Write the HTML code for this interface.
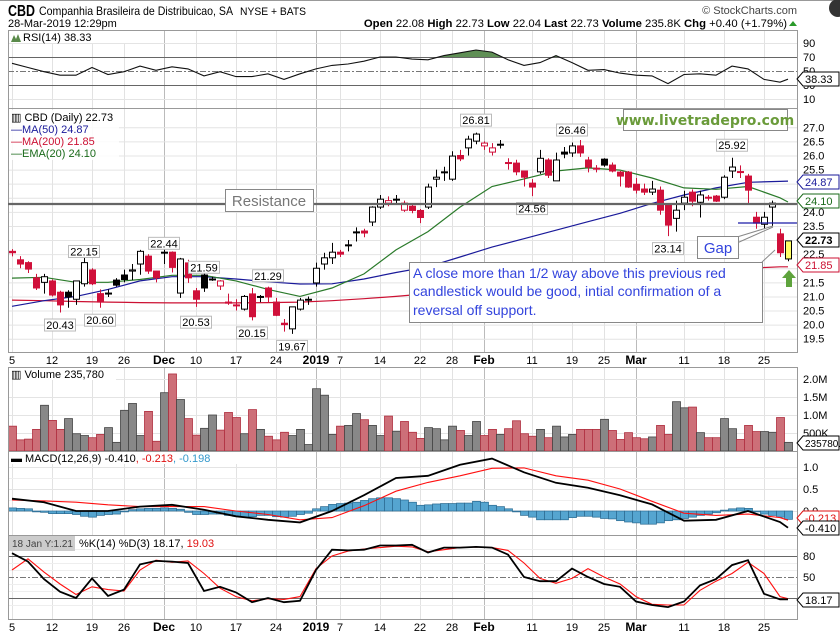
<!DOCTYPE html>
<html><head><meta charset="utf-8"><style>
html,body{margin:0;padding:0;background:#fff;}
svg{display:block;font-family:"Liberation Sans","DejaVu Sans",sans-serif;}
</style></head><body>
<svg id="chart" width="840" height="634" viewBox="0 0 840 634" xmlns="http://www.w3.org/2000/svg">
<rect x="0" y="0" width="840" height="634" fill="#fff"/>
<line x1="0" y1="0.5" x2="840" y2="0.5" stroke="#999"/>
<text x="8" y="16" font-size="16" font-weight="bold" textLength="27" lengthAdjust="spacingAndGlyphs">CBD</text>
<text x="39" y="15" font-size="12" textLength="194" lengthAdjust="spacingAndGlyphs">Companhia Brasileira de Distribuicao, SA</text>
<text x="240" y="15" font-size="11" textLength="66" lengthAdjust="spacingAndGlyphs">NYSE + BATS</text>
<text x="797" y="14" font-size="11" text-anchor="end" fill="#444">© StockCharts.com</text>
<circle cx="838" cy="8" r="9" fill="#333"/>
<text x="8" y="27" font-size="11">28-Mar-2019 12:29pm</text>
<text x="787" y="27" font-size="11.3" text-anchor="end"><tspan font-weight="bold">Open</tspan> 22.08  <tspan font-weight="bold">High</tspan> 22.73  <tspan font-weight="bold">Low</tspan> 22.04  <tspan font-weight="bold">Last</tspan> 22.73  <tspan font-weight="bold">Volume</tspan> 235.8K  <tspan font-weight="bold">Chg</tspan> +0.40 (+1.79%)</text>
<polygon points="789,26 797,26 793,21" fill="#2a9a2a"/>
<g id="grid"></g>
<g id="marks"></g>
<g id="frames" fill="none" stroke="#999">
<rect x="8.5" y="30.5" width="789" height="78"/>
<rect x="8.5" y="108.5" width="789" height="244"/>
<rect x="8.5" y="367.5" width="789" height="84"/>
<rect x="8.5" y="451.5" width="789" height="84"/>
<rect x="8.5" y="535.5" width="789" height="84"/>
</g>
<g id="annot">
<line x1="8" y1="204" x2="797" y2="204" stroke="#666" stroke-width="2.2"/>
<rect x="225.5" y="189.5" width="88" height="22" fill="#fff" stroke="#888"/>
<text x="269" y="206" font-size="15" fill="#777" text-anchor="middle">Resistance</text>
<rect x="623.5" y="109.5" width="164" height="21" fill="#fff" stroke="#888"/>
<text x="705" y="125" font-size="14" font-weight="bold" fill="#6a9b3a" text-anchor="middle" font-family="DejaVu Sans">www.livetradepro.com</text>
<line x1="738" y1="223" x2="797" y2="223" stroke="#1a1aa8" stroke-width="1.3"/>
<line x1="737" y1="237" x2="773" y2="226" stroke="#888"/>
<line x1="737" y1="243" x2="773" y2="227" stroke="#888"/>
<rect x="697.5" y="236.5" width="41" height="22" fill="#fff" stroke="#888"/>
<text x="718" y="253" font-size="15" fill="#3344dd" text-anchor="middle">Gap</text>
<line x1="762" y1="262" x2="775" y2="250" stroke="#888"/>
<rect x="409.5" y="262.5" width="353" height="60" fill="#fff" stroke="#888"/>
<text font-size="14" fill="#3344dd"><tspan x="413" y="278">A close more than 1/2 way above this previous red</tspan><tspan x="413" y="296">candlestick would be good, intial confirmation of a</tspan><tspan x="413" y="315">reversal off support.</tspan></text>
<polygon points="789,270 796,278 792,278 792,287 786,287 786,278 782,278" fill="#5ea33c"/>
</g>
<g id="labels" font-size="11">
<rect x="9" y="31" width="128" height="12" fill="#fff"/>
<polygon points="11,42 14,35 16,39 18,34 21,42" fill="#5a8a4a"/>
<text x="23" y="41">RSI(14) 38.33</text>
<rect x="9" y="110" width="110" height="50" fill="#fff" fill-opacity="0.85"/>
<text x="11" y="121">▥ CBD (Daily) 22.73</text>
<text x="11" y="133" fill="#1a1a9a">—MA(50) 24.87</text>
<text x="11" y="145" fill="#cc1133">—MA(200) 21.85</text>
<text x="11" y="157" fill="#1a6a1a">—EMA(20) 24.10</text>
<rect x="9" y="368" width="107" height="12" fill="#fff"/>
<text x="11" y="378">▥ Volume 235,780</text>
<rect x="9" y="452" width="232" height="12" fill="#fff"/>
<text x="11" y="462">▬ MACD(12,26,9) -0.410<tspan fill="#e01010">, -0.213</tspan><tspan fill="#3399cc">, -0.198</tspan></text>
<rect x="9" y="536" width="66" height="15" fill="#ccc"/>
<text x="12" y="547" font-size="10" fill="#444">18 Jan Y:1.21</text>
<rect x="76" y="536" width="162" height="13" fill="#fff"/>
<text x="79" y="547">%K(14) %D(3) 18.17, <tspan fill="#e01010">19.03</tspan></text>
</g>
<g id="axes" font-size="11"></g>
</svg>
<script>
// ---- data ----
const opens=[22.6,22.3,22.2,21.66,21.5,21.55,21.15,21.15,20.9,21.45,21.94,21.1,21.1,21.58,21.76,21.9,22.15,22.43,21.9,22.55,22.57,21.12,22.19,21.2,21.76,21.6,21.37,20.8,20.68,20.55,21.09,20.98,21.3,20.8,20.05,19.85,20.55,20.88,21.48,22.15,22.37,22.57,22.8,23.27,23.32,23.64,24.17,24.31,24.43,24.06,24.2,24.05,24.17,25.16,25.4,25.16,26.0,26.27,26.51,26.34,26.12,26.38,25.75,25.73,25.45,25.02,25.42,25.84,25.1,26.12,26.09,26.34,25.84,25.55,25.87,25.66,25.41,25.41,24.98,24.81,24.7,24.77,24.24,23.77,24.31,24.7,24.34,24.52,24.56,24.52,25.45,25.43,25.27,23.81,23.56,24.17,23.22,22.33];
const highs=[22.68,22.43,22.25,21.8,21.8,21.6,21.2,21.22,21.55,22.37,22.0,21.25,21.25,21.65,21.95,22.15,22.65,22.5,21.9,22.9,22.6,22.37,22.3,21.3,21.83,21.7,21.58,21.1,20.9,21.05,21.3,21.05,21.35,20.95,20.2,20.63,20.95,21.0,22.2,22.55,22.9,22.65,23.0,23.45,23.4,24.2,24.6,24.55,24.6,24.4,24.3,24.1,25.0,25.5,25.6,26.15,26.2,26.7,26.81,26.5,26.44,26.55,25.9,25.85,25.45,25.16,26.2,25.9,26.1,26.3,26.46,26.55,25.95,25.66,25.9,25.75,25.45,25.45,25.2,25.0,25.1,24.9,24.3,24.4,24.75,24.8,24.75,24.6,24.6,25.3,25.92,25.65,25.35,24.0,24.0,24.4,23.4,22.97];
const lows=[22.42,22.0,21.83,21.23,21.1,21.0,20.43,20.6,20.7,21.35,21.4,20.6,20.98,21.35,21.5,21.58,21.77,21.8,21.5,22.15,21.85,20.95,21.48,20.63,21.16,21.55,21.23,20.7,20.5,20.5,20.15,20.8,20.8,20.3,19.75,19.67,20.5,20.7,21.35,21.95,22.15,22.4,22.6,22.95,23.1,23.5,24.1,24.2,24.3,24.0,23.95,23.6,24.1,24.88,25.1,25.1,25.8,26.0,26.4,26.2,26.0,26.25,25.5,25.3,24.9,24.56,25.35,25.2,25.1,25.9,25.95,25.95,25.4,25.4,25.6,25.4,24.9,24.85,24.65,24.6,24.6,23.9,23.14,23.3,24.06,24.2,23.8,24.4,24.35,24.45,25.2,25.2,24.31,23.4,23.4,23.5,22.4,22.25];
const closes=[22.55,22.15,21.97,21.3,21.7,21.05,20.7,20.98,21.55,22.2,21.45,20.8,21.12,21.4,21.6,21.94,22.6,21.9,21.66,22.57,22.03,22.33,21.66,20.9,21.3,21.62,21.55,20.76,20.7,21.0,20.28,21.0,20.98,20.33,20.0,20.63,20.87,20.9,22.0,22.37,22.57,22.5,22.83,23.29,23.25,24.17,24.45,24.4,24.45,24.31,24.05,23.8,24.88,25.23,25.42,25.98,25.88,26.58,26.76,26.44,26.27,26.4,25.73,25.42,25.23,24.88,25.9,25.3,25.84,26.05,26.34,26.09,25.59,25.52,25.66,25.45,25.27,24.88,24.77,24.7,24.81,24.06,23.53,24.06,24.52,24.38,24.6,24.5,24.38,25.23,25.59,25.41,24.77,23.6,23.81,24.31,22.55,22.97];
const volumes=[0.69,0.31,0.33,0.6,1.27,0.85,0.6,0.9,0.48,0.43,0.37,0.46,0.65,0.24,1.13,1.32,0.43,1.1,0.27,1.62,2.14,1.43,0.9,0.44,0.63,1.0,0.58,1.07,0.93,0.48,1.15,0.6,0.41,0.31,0.52,0.43,0.6,0.18,1.73,1.55,0.46,0.69,0.71,1.04,0.87,0.71,0.43,0.97,0.55,0.82,0.52,0.35,0.65,0.62,0.31,0.69,0.57,0.43,0.82,0.43,0.6,0.46,0.62,0.84,0.48,0.41,0.6,0.37,0.69,0.39,0.46,0.6,0.6,0.6,0.88,0.57,0.32,0.51,0.37,0.34,0.39,0.71,0.46,1.37,1.2,1.22,0.51,0.37,0.37,0.9,0.62,0.32,0.71,0.54,0.54,0.52,0.93,0.24];
// step-4 series (days 0,4,...,96, then 97)
const ma50=[20.65,20.85,21.0,21.25,21.55,21.7,21.7,21.62,21.52,21.44,21.45,21.62,21.85,22.05,22.4,22.75,23.05,23.35,23.65,23.95,24.3,24.6,24.85,25.05,25.08,25.09];
const ma200=[20.87,20.85,20.82,20.8,20.78,20.77,20.77,20.77,20.78,20.8,20.85,20.92,21.0,21.1,21.2,21.3,21.4,21.5,21.6,21.7,21.78,21.85,21.92,22.0,22.05,22.05];
const ema20=[21.65,21.68,21.5,21.5,21.6,21.75,21.75,21.55,21.25,21.0,21.3,21.8,22.65,23.3,24.17,24.9,25.17,25.45,25.56,25.48,25.2,24.85,24.8,24.9,24.5,24.35];
const macdLine=[0.28,0.2,0.0,0.0,0.1,0.14,0.03,-0.12,-0.2,-0.26,0.0,0.36,0.75,0.8,1.05,1.19,0.88,0.64,0.53,0.36,0.15,-0.22,-0.2,0.0,-0.25,-0.38];
const signalLine=[0.25,0.23,0.2,0.14,0.1,0.1,0.1,0.0,-0.08,-0.2,-0.15,0.12,0.45,0.65,0.8,0.97,0.98,0.8,0.7,0.5,0.22,-0.05,-0.1,-0.07,-0.15,-0.21];
const histogram=[0.07,0.06,0.05,-0.02,-0.03,-0.06,-0.06,-0.06,-0.08,-0.12,-0.14,-0.1,-0.08,-0.07,-0.02,0.03,0.05,0.06,0.06,0.07,0.06,0.04,-0.03,-0.08,-0.08,-0.07,-0.07,-0.1,-0.12,-0.14,-0.13,-0.1,-0.1,-0.13,-0.14,-0.12,-0.08,-0.05,0.05,0.1,0.15,0.17,0.18,0.2,0.24,0.28,0.3,0.3,0.28,0.25,0.2,0.13,0.14,0.16,0.17,0.17,0.18,0.18,0.22,0.2,0.13,0.1,0.05,-0.02,-0.1,-0.14,-0.2,-0.2,-0.2,-0.2,-0.15,-0.12,-0.12,-0.14,-0.17,-0.18,-0.22,-0.25,-0.27,-0.3,-0.3,-0.27,-0.22,-0.2,-0.17,-0.14,-0.1,-0.07,-0.04,0.02,0.05,0.07,0.06,-0.02,-0.07,-0.1,-0.14,-0.19];
// step-2 series (days 0,2,...,96, then 97)
const rsi=[61,55,49,44,44,55,45,49,57,51,56,53,43,49,42,42,46,38,46,53,58,60,64,70,70,67,66,72,76,80,77,66,58,62,72,62,51,52,47,44,43,32,45,46,44,57,53,38,34,38.33];
const stochK=[84,72,47,29,20,48,23,32,68,73,72,70,30,36,28,14,20,14,16,60,89,88,89,95,95,96,85,92,92,93,92,82,50,44,44,62,50,40,36,15,10,7,15,38,47,67,74,26,18,18.17];
const stochD=[60,76,57,40,25,36,32,30,60,74,71,73,55,34,22,16,19,18,22,62,80,87,90,92,94,93,86,89,92,93,92,88,70,48,41,48,62,50,40,22,11,10,10,31,44,55,71,55,22,19.03];
// axis ticks
const priceTicks=[27.0,26.5,26.0,25.5,25.0,24.5,24.0,23.5,23.0,22.5,22.0,21.5,21.0,20.5,20.0,19.5];
const rsiTicks=[90,70,50,30,10];
const volTicks=[2.0,1.5,1.0,0.5];
const volTickLabels=["2.0M","1.5M","1.0M","500K"];
const macdTicks=[1.0,0.5,0.0];
const stochTicks=[80,50,20];
const dateIdx=[0,5,10,14,19,23,28,33,38,41,46,51,55,59,65,70,74,78,84,89,94];
const dateLabels=["5","12","19","26","Dec","10","17","24","2019","7","14","22","28","Feb","11","19","25","Mar","11","18","25"];
const monthLabels=["Dec","2019","Feb","Mar"];
const priceNotes=[[58,26.81,1],[70,26.46,1],[90,25.92,1],[65,24.56,0],[82,23.14,0],[9,22.15,1],[19,22.44,1],[24,21.59,1],[32,21.29,1],[6,20.43,0],[11,20.60,0],[23,20.53,0],[30,20.15,0],[35,19.67,0]];

// ---- scales ----
const NS='http://www.w3.org/2000/svg';
const X=i=>12+8*i;
const PY=p=>127.3+(27-p)*28.19;
const RY=v=>57+(70-v)*0.7;
const VY=v=>451-v*36;
const MY=v=>511-v*44;
const SY=v=>556+(80-v)*0.7;
const N=closes.length;
function mk(tag,parent){const e=document.createElementNS(NS,tag);parent.appendChild(e);return e;}
const grid=document.getElementById('grid'),marks=document.getElementById('marks'),axes=document.getElementById('axes');
function stepX(k,step,len){return k===len-1?X(N-1):X(k*step);}
function pathFor(vals,step,ys){return vals.map((v,k)=>(k?'L':'M')+stepX(k,step,vals.length).toFixed(1)+','+ys(v).toFixed(1)).join('');}

// ---- grid ----
function hline(y,x1,x2,col,dash,w){const l=mk('line',grid);l.setAttribute('x1',x1);l.setAttribute('x2',x2);l.setAttribute('y1',y);l.setAttribute('y2',y);l.setAttribute('stroke',col);l.setAttribute('stroke-width',w||1);if(dash)l.setAttribute('stroke-dasharray',dash);

return l;}
dateIdx.forEach((d,k)=>{
  const month=monthLabels.includes(dateLabels[k]);
  [[30,352],[367,619]].forEach(r=>{const l=mk('line',grid);l.setAttribute('x1',X(d)+0.5);l.setAttribute('x2',X(d)+0.5);l.setAttribute('y1',r[0]);l.setAttribute('y2',r[1]);l.setAttribute('stroke',month?'#bbb':'#e2e2e2');
  
  });
  [364,631].forEach(yy=>{const t=mk('text',axes);t.setAttribute('x',X(d));t.setAttribute('y',yy);t.setAttribute('text-anchor','middle');t.setAttribute('font-size',month?'12':'11');if(month)t.setAttribute('font-weight','bold');t.textContent=dateLabels[k];
  
  });
});
priceTicks.forEach(p=>{hline(PY(p)+0.5,8,797,'#e4e4e4');const t=mk('text',axes);t.setAttribute('x',803);t.setAttribute('y',PY(p)+4);t.textContent=p.toFixed(1);

});
rsiTicks.forEach(v=>{const dark=(v===70||v===30);hline(RY(v)+0.5,8,797,dark?'#666':(v===50?'#777':'#e4e4e4'),v===50?'6,2,2,2':null);const t=mk('text',axes);t.setAttribute('x',803);t.setAttribute('y',RY(v)+4);t.textContent=v;

});
volTicks.forEach((v,k)=>{hline(VY(v)+0.5,8,797,'#e4e4e4');const t=mk('text',axes);t.setAttribute('x',803);t.setAttribute('y',VY(v)+4);t.textContent=volTickLabels[k];

});
[0.25,0.75].forEach(v=>hline(MY(v)+0.5,8,797,'#eee'));
macdTicks.forEach(v=>{hline(MY(v)+0.5,8,797,'#e4e4e4');const t=mk('text',axes);t.setAttribute('x',803);t.setAttribute('y',MY(v)+4);t.textContent=v.toFixed(1);

});
[10,30,40,60,70,90].forEach(v=>hline(SY(v)+0.5,8,797,'#eee'));
stochTicks.forEach(v=>{hline(SY(v)+0.5,8,797,v===50?'#777':'#666',v===50?'6,2,2,2':null);const t=mk('text',axes);t.setAttribute('x',803);t.setAttribute('y',SY(v)+4);t.textContent=v;

});

// ---- RSI ----
const defs=mk('defs',marks);
const cp=mk('clipPath',defs);cp.setAttribute('id','above70');
const cr=mk('rect',cp);cr.setAttribute('x',8);cr.setAttribute('y',30);cr.setAttribute('width',790);cr.setAttribute('height',RY(70)-30);
const rsiFill=mk('path',marks);
rsiFill.setAttribute('d',pathFor(rsi,2,RY)+'L'+X(N-1)+','+RY(70)+'L'+X(0)+','+RY(70)+'Z');
rsiFill.setAttribute('fill','#5f8f55');rsiFill.setAttribute('clip-path','url(#above70)');


const rsiPath=mk('path',marks);rsiPath.setAttribute('d',pathFor(rsi,2,RY));rsiPath.setAttribute('fill','none');rsiPath.setAttribute('stroke','#111');rsiPath.setAttribute('stroke-width','1.1');



// ---- price MAs ----
[[ma200,'#cc1133','ma200-line'],[ma50,'#1a1a9a','ma50-line'],[ema20,'#2a7a2a','ema20-line']].forEach(s=>{
  const p=mk('path',marks);p.setAttribute('d',pathFor(s[0],4,PY));p.setAttribute('fill','none');p.setAttribute('stroke',s[1]);p.setAttribute('stroke-width','1.2');
  
  
});

// ---- candles ----
for(let i=0;i<N;i++){
  const o=opens[i],c=closes[i],h=highs[i],l=lows[i];
  const prev=i?closes[i-1]:o;
  const down=c<prev, hollow=c>o;
  let col=down?'#d0103a':'#000';
  const g=mk('g',marks);
  
  
  const w=mk('line',g);w.setAttribute('x1',X(i)+0.5);w.setAttribute('x2',X(i)+0.5);w.setAttribute('y1',PY(h));w.setAttribute('y2',PY(l));w.setAttribute('stroke',i===N-1?'#000':col);
  
  
  const top=PY(Math.max(o,c)),bh=Math.max(1,Math.abs(PY(o)-PY(c)));
  const b=mk('rect',g);b.setAttribute('x',X(i)-2.5);b.setAttribute('y',top);b.setAttribute('width',6);b.setAttribute('height',bh);
  if(i===N-1){b.setAttribute('fill','#ffff66');b.setAttribute('stroke','#000');}
  else if(hollow){b.setAttribute('fill','#fff');b.setAttribute('stroke',col);}
  else {b.setAttribute('fill',col);b.setAttribute('stroke',col);}
  
  
}
// price value notes
priceNotes.forEach(n=>{
  const x=X(n[0]),y=PY(n[1]);
  const g=mk('g',marks);
  
  
  const by=n[2]?y-19:y+6;
  const r=mk('rect',g);r.setAttribute('x',x-15.5);r.setAttribute('y',by+0.5);r.setAttribute('width',31);r.setAttribute('height',12);r.setAttribute('fill','#fff');r.setAttribute('stroke','#bbb');
  
  
  const t=mk('text',g);t.setAttribute('x',x);t.setAttribute('y',by+10.5);t.setAttribute('text-anchor','middle');t.setAttribute('font-size','11');t.textContent=n[1].toFixed(2);
  
  
});

// ---- volume ----
for(let i=0;i<N;i++){
  const prev=i?closes[i-1]:opens[i];const up=closes[i]>=prev;
  const r=mk('rect',marks);r.setAttribute('x',X(i)-3.5);r.setAttribute('y',VY(volumes[i]));r.setAttribute('width',8);r.setAttribute('height',451-VY(volumes[i]));
  r.setAttribute('fill',up?'#888':'#cd6f78');r.setAttribute('stroke',up?'#444':'#b03040');r.setAttribute('stroke-width','0.8');
  
  
}

// ---- MACD ----
for(let i=0;i<N;i++){
  const v=histogram[i];const y0=MY(0),y1=MY(v);
  const r=mk('rect',marks);r.setAttribute('x',X(i)-3.5);r.setAttribute('y',Math.min(y0,y1));r.setAttribute('width',8);r.setAttribute('height',Math.max(0.5,Math.abs(y1-y0)));
  r.setAttribute('fill','#55a5d0');r.setAttribute('stroke','#2a6a90');r.setAttribute('stroke-width','0.7');
  
  
}
const sig=mk('path',marks);sig.setAttribute('d',pathFor(signalLine,4,MY));sig.setAttribute('fill','none');sig.setAttribute('stroke','#ff1010');sig.setAttribute('stroke-width','1.1');


const mac=mk('path',marks);mac.setAttribute('d',pathFor(macdLine,4,MY));mac.setAttribute('fill','none');mac.setAttribute('stroke','#000');mac.setAttribute('stroke-width','1.8');



// ---- stochastic ----
const sd=mk('path',marks);sd.setAttribute('d',pathFor(stochD,2,SY));sd.setAttribute('fill','none');sd.setAttribute('stroke','#ff1010');sd.setAttribute('stroke-width','1.1');


const sk=mk('path',marks);sk.setAttribute('d',pathFor(stochK,2,SY));sk.setAttribute('fill','none');sk.setAttribute('stroke','#000');sk.setAttribute('stroke-width','1.8');



// ---- right-edge value tags ----
function tag(y,txt,col,bold,fs){
  const g=mk('g',axes);
  
  
  const f=fs||11;
  const w=Math.min(txt.length*f*0.58+5,36);
  const p=mk('polygon',g);p.setAttribute('points',`797,${y} 803,${y-7} ${803+w},${y-7} ${803+w},${y+7} 803,${y+7}`);p.setAttribute('fill','#fff');p.setAttribute('stroke',col);
  
  
  const t=mk('text',g);t.setAttribute('x',805);t.setAttribute('y',y+4);t.setAttribute('font-size',f);t.setAttribute('fill',col);if(bold)t.setAttribute('font-weight','bold');t.textContent=txt;
  
  
}
tag(79,'38.33','#000');
tag(182,'24.87','#1a1a9a');
tag(201,'24.10','#1a6a1a');
tag(240,'22.73','#000',true);
tag(265,'21.85','#cc1133');
tag(443,'235780.0','#000',false,10);
tag(518,'-0.213','#e01010');
tag(528,'-0.410','#000');
tag(600,'18.17','#000');
</script>
</body></html>
